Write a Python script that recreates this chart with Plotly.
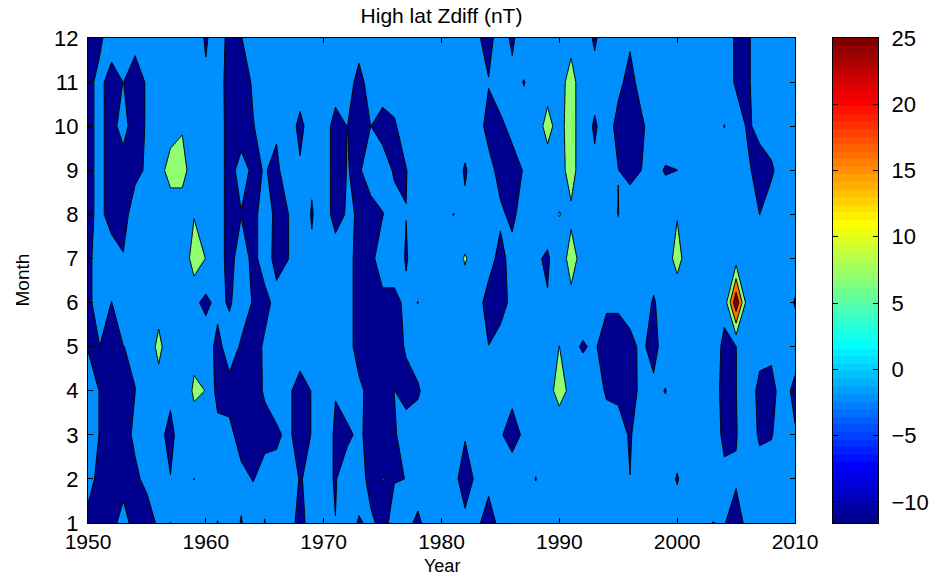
import plotly.graph_objects as go

# ---------------- data ----------------
years = list(range(1950, 2011))
months = list(range(1, 13))
x_tick_years = [1950, 1960, 1970, 1980, 1990, 2000, 2010]
y_tick_months = months
colorbar_ticks = [-10, -5, 0, 5, 10, 15, 20, 25]
colorbar_range = [-11.6, 25]

# Zdiff (nT), one list per year, months 1..12
zdiff_by_year = [
    [-9, -4.5, -4.5, -4.5, -7.3, -8.5, -8.5, -8.5, -8.5, -8.5, -8.5, -11],      # 1950
    [-10, -9, -7.2, -7.2, -7.05, -4, -4, -5.5, -5.5, -5.5, -5.5, -8],           # 1951
    [-9.5, -10, -10, -10, -9, -7.1, -4, -9.5, -9.5, -9.5, -9.5, -4],            # 1952
    [-4, -10, -10, -9, -7.05, -4, -6.5, -10, -11, -4, -6.9, -4],                # 1953
    [-10, -8.5, -5.5, -7.05, -6.5, -4, -4, -3, -9, -11.5, -11.5, -4],           # 1954
    [-11, -5, -3, -3, -3, -3, -3, -3, -6, -6, -6, -3],                          # 1955
    [-5.5, -3, -5, -1.4, 3.4, -1.4, -3, -3, -1.5, -3, -3, -3],                  # 1956
    [1.7, -6.8, -9, -5.4, -3, -3, -3, -3, 4.5, -1.5, -3, -3],                   # 1957
    [-3, -3, -3, -3, -3, -3, -5.5, -3, 4.5, 0.75, -3, -3],                      # 1958
    [-3, -7.1, -1.5, 2.5, -0.4, -5.25, 6, 1.0, -3, -3, -3, 0],                  # 1959
    [-3, -3, -5, 1.4, -2.3, -9, 1.3, -3, -3, -3, -5, -8.5],                     # 1960
    [-7.2, -3.5, -4, -10, -9.5, -4.6, -3, -3, -3, -3, -3, 0],                   # 1961
    [-3, -3, -5, -10, -3, -8, -10, -10, -10, -10, -10.5, -11],                  # 1962
    [-7.4, -5, -10, -11, -8, -3, -3, -7.33, -4, -11, -11.5, -7.3],              # 1963
    [-3, -7.3, -10, -9, -10, -7.5, -9, -9, -8.5, -7.5, -6, -3],                 # 1964
    [-7.2, -5, -8.5, -6.5, -6, -9, -4, -4, -6.6, -3, -3, -3],                   # 1965
    [-3, -5, -8, -4, -3, -5, -9, -8.5, -8.5, -6, -3, -3],                       # 1966
    [-3, -3, -5.7, -5.7, -3, -3, -7.1, -7.1, -3, -3, -3, -3],                   # 1967
    [-10, -7.5, -10, -10, -3.3, -3, -3, -3, -6, -9, -3, -3],                    # 1968
    [-3, -5, -6.7, -6.7, -3, -3, -6, -7.5, -6, -3, -3, -3],                     # 1969
    [-3, -5, -3, -3, -3, -3, -3, -3, -3, -3, -3, -3],                           # 1970
    [-6.9, -7.5, -8, -6.7, -3, -3, -3, -10, -10, -10, -3, -3],                  # 1971
    [-3, -3, -8.5, -3, -3, -3, -3, -6.2, -6.8, -6.9, -3, -3],                   # 1972
    [-7.8, -3, -5.5, -5, -11, -11, -11, -7.5, -8, -11, -10, -3],                # 1973
    [-5.5, -10, -10, -10, -11, -11, -9, -10, -3, -6.95, -3, -3],                # 1974
    [-9.5, -6.9, -11, -11, -11, -9, -3, -7.3, -3, -10, -3, -3],                 # 1975
    [-4.3, -7.3, -8, -6.9, -11, -9, -3, -4, -8, -8, -3, -3],                    # 1976
    [-5, -6.95, -3, -10, -6, -5.5, -7.6, -6.9, -7.3, -3, -3, -3],               # 1977
    [-8.5, -3, -3, -8, -3, -7.1, -3, -3, -3, -3, -3, -3],                       # 1978
    [-3.5, -3, -3, -3, -3, -3, -3, -3, -3, -3, -3, -3],                         # 1979
    [-3, -3, -3, -3, -3, -3, -3, -3, -3, -3, -3, -3],                           # 1980
    [-3, -5, -3, -3, -3, -3, -3, -7.1, -3, -3, -3, -3],                         # 1981
    [-5.5, -10, -6.5, -3, -3, -3, 2.3, -5.5, -7.8, -3, -3, -3],                 # 1982
    [-6.1, -5.7, -3, -3, -3, -4, -3, -3, -3, -3, -3, -5.3],                     # 1983
    [-9, -5.7, -3, -3, -6.9, -10, -4, -3, -4, -10, -6.5, -11],                  # 1984
    [-5.7, -3, -6, -3, -4, -10, -9.5, -5.5, -10, -8.5, -3, -1],                 # 1985
    [-3, -1, -11, -4.3, -3, -5, -4, -9, -10, -5, -4, -9],                       # 1986
    [-3, -3, -5.3, -3, -3, -3, -3, -3, -6.5, -3, -7.4, 0],                      # 1987
    [-3, -7.2, -3, -3, -3, -3, -6, -3, -3, -1.5, -3, -3],                       # 1988
    [-3, -3, -3, -3, -3, -6.5, -8, -3, -1.5, 3.5, -1, -3],                      # 1989
    [-3, -3, -6.9, 6, 1.6, -3, -2.25, 1.7, -1.5, -1, -1.5, -3],                 # 1990
    [-3, -3, -3, -1.5, -5.5, -0.2, 4, 0.2, 4.5, 5, 4.5, -1],                    # 1991
    [-3, -3, -3, -3.5, -7.6, -3.5, -1, -3, -3, -3.75, -3, -3],                  # 1992
    [-3, -3, -3, -3, -6, -3, -3, -3, -5.8, -7.8, -4.6, -8],                     # 1993
    [-3, -3, -3, -8, -11, -5.7, -3, -3, -3, -4, -3, -3],                        # 1994
    [-3, -3, -3, -9, -11, -5.7, -3, -7.2, -6.9, -9, -5.5, -3],                  # 1995
    [-3, -6.9, -8, -9, -9, -4, -3, -2, -9.5, -11, -9, -6.1],                    # 1996
    [-3, -3, -1.3, -5.7, -5.5, -3, -3, -3, -6.9, -8, -4.5, -3],                 # 1997
    [-3, -3, -5.8, -5, -10, -7.8, -3, -3, -5, -4, -3, -3],                      # 1998
    [-3, -3, -3, -7.3, -2.5, -3, -3, -3, -7.5, -3, -3, -3],                     # 1999
    [-3, -7.6, -3, -3, -3, -4, 4.5, 1.0, -7.05, -3, -3, -3],                    # 2000
    [-3, -3, -3, -3, -3, -3, -3, -3, -3, -3, -3, -3],                           # 2001
    [-3, -3, -3, -3, -3, -3, -3, -3, -3, -3, -3, -3],                           # 2002
    [-7.1, -3, -5.8, -5.5, -2.3, -3, -3, -3, -3, -3, -3, -3],                   # 2003
    [-6.7, -6.5, -7.5, -8, -9, -4.4, -3, -3, -3, -7.15, -3, -3],                # 2004
    [-9.5, -6.3, -7.4, -7.1, -7.1, 25, -2.6, -3, -3, -3, -8, -8],               # 2005
    [-5.3, -3, -3, -3, -3, -4.4, -3, -3, -5.8, -8, -8, -8],                     # 2006
    [-3, -4, -8, -9, -4.5, -3, -3, -7.05, -10, -5, -3, -3],                     # 2007
    [-3, -3, -7.5, -9, -5.5, -3, -3, -3, -8.2, -3, -3, -3],                     # 2008
    [-3, -3, -3, -4, -3, -3, -3, -3, -3, -3, -3, -3],                           # 2009
    [-3, -3, -6.3, -9, -3.3, -7.5, -3, -3, -3, -3, -3, -3],                     # 2010
]

# grid: rows = months, columns = years
z = [[zdiff_by_year[j][i] for j in range(len(years))] for i in range(len(months))]

# ---------------- styling ----------------
FONT = "Liberation Sans, Arial, Helvetica, sans-serif"
W, H = 932, 575
L, R, T, B = 88, 54, 38, 52           # outer margins (colour bar lives inside plotting width)
plot_w = W - L - R
main_right_px = 795                    # right edge of the contour axes
cbar_left_px, cbar_right_px = 833, 878

# contour band colours (MATLAB jet picks for each filled band)
band_colors = ["rgb(0,0,143)", "rgb(0,143,255)", "rgb(143,255,112)",
               "rgb(255,112,0)", "rgb(128,0,0)"]
nb = len(band_colors)
band_scale = []
for k, c in enumerate(band_colors):
    lo = 0 if k == 0 else (k - 0.5) / (nb - 1)
    hi = 1 if k == nb - 1 else (k + 0.5) / (nb - 1)
    band_scale.append([lo, c])
    band_scale.append([hi, c])


def jet64_colors():
    cols = []
    for k in range(1, 65):
        if k <= 8:
            b = (k + 8) / 16
        elif k <= 23:
            b = 1
        elif k <= 39:
            b = (40 - k) / 16
        else:
            b = 0
        if k <= 8:
            g = 0
        elif k <= 24:
            g = (k - 8) / 16
        elif k <= 39:
            g = 1
        elif k <= 55:
            g = (56 - k) / 16
        else:
            g = 0
        if k <= 24:
            r = 0
        elif k <= 40:
            r = (k - 24) / 16
        elif k <= 55:
            r = 1
        else:
            r = (72 - k) / 16
        cols.append("rgb(%d,%d,%d)" % (round(r * 255), round(g * 255), round(b * 255)))
    return cols


jet_cols = jet64_colors()
ncol = len(jet_cols)
jet_scale = []
for i, c in enumerate(jet_cols):
    jet_scale.append([i / ncol, c])
    jet_scale.append([(i + 1) / ncol, c])

# colour-bar strip: one cell per colormap entry
cb_lo, cb_hi = colorbar_range
cb_step = (cb_hi - cb_lo) / ncol
cb_centers = [cb_lo + (i + 0.5) * cb_step for i in range(ncol)]

fig = go.Figure()

fig.add_trace(go.Contour(
    x=years, y=months, z=z,
    colorscale=band_scale,
    autocontour=False,
    contours=dict(start=-7, end=18.5, size=8.5, coloring="fill", showlines=True),
    line=dict(color="black", width=1, smoothing=0),
    showscale=False,
    hoverinfo="skip",
    xaxis="x", yaxis="y",
))

fig.add_trace(go.Heatmap(
    x=[0.5], y=cb_centers, z=[[v] for v in cb_centers],
    colorscale=jet_scale, zmin=cb_lo, zmax=cb_hi, showscale=False,
    hoverinfo="skip", xaxis="x2", yaxis="y2",
))

tick_font = dict(family=FONT, size=22, color="black")
axis_common = dict(
    showline=True, linecolor="black", linewidth=1, mirror="ticks",
    ticks="inside", ticklen=5, tickcolor="black", tickwidth=1,
    showgrid=False, zeroline=False,
)

fig.update_layout(
    width=W, height=H,
    margin=dict(l=L, r=R, t=T, b=B, autoexpand=False),
    paper_bgcolor="white", plot_bgcolor="white",
    showlegend=False,
    title=dict(text="High lat Zdiff (nT)", x=(L + main_right_px) / 2 / W, xref="container",
               y=1 - 16 / H, yref="container", yanchor="middle", xanchor="center",
               font=dict(family=FONT, size=21, color="black")),
    xaxis=dict(domain=[0, (main_right_px - L) / plot_w], range=[1950, 2010],
               tickvals=x_tick_years, anchor="y", ticklabelstandoff=0,
               tickfont=dict(family=FONT, size=21, color="black"), **axis_common),
    yaxis=dict(domain=[0, 1], range=[1, 12], tickvals=y_tick_months, anchor="x",
               ticklabelstandoff=4, tickfont=tick_font, **axis_common),
    xaxis2=dict(domain=[(cbar_left_px - L) / plot_w, (cbar_right_px - L) / plot_w],
                range=[0, 1], anchor="y2", showline=True, linecolor="black", linewidth=1,
                mirror=True, showticklabels=False, ticks="", showgrid=False, zeroline=False,
                fixedrange=True),
    yaxis2=dict(domain=[0, 1], range=[cb_lo, cb_hi], anchor="x2", side="right",
                tickvals=colorbar_ticks, showline=True, linecolor="black", linewidth=1,
                mirror="ticks", ticks="inside", ticklen=5, tickcolor="black",
                showgrid=False, zeroline=False, tickfont=tick_font,
                ticklabelstandoff=8, fixedrange=True),
    annotations=[
        dict(text="Year", xref="x", yref="paper", x=1980, y=0, yshift=-43,
             xanchor="center", yanchor="middle", showarrow=False,
             font=dict(family=FONT, size=18, color="black")),
        dict(text="Month", xref="paper", yref="paper", x=0, y=0.5, xshift=-66,
             xanchor="center", yanchor="middle", textangle=-90, showarrow=False,
             font=dict(family=FONT, size=19, color="black")),
    ],
)

fig.write_html("out.html", config={"displayModeBar": False},
               post_script="document.body.style.margin='0px';document.body.style.overflow='hidden';")
